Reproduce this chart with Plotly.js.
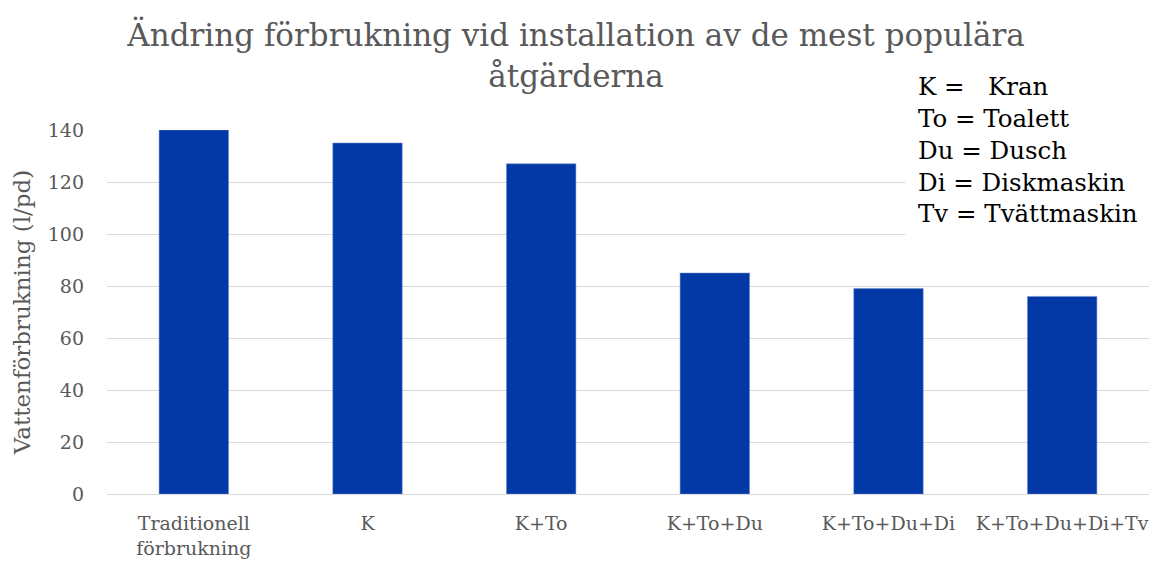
<!DOCTYPE html>
<html><head><meta charset="utf-8">
<script src="https://cdn.plot.ly/plotly-3.0.1.min.js"></script>
<style>body{margin:0;background:#fff}#c{width:1152px;height:565px}</style>
</head><body><div id="c"></div>
<script>
const categories = ["Traditionell<br>förbrukning", "K", "K+To", "K+To+Du", "K+To+Du+Di", "K+To+Du+Di+Tv"];
const values = [140, 135, 127, 85, 79, 76];
const legendLines = ["K =   Kran", "To = Toalett", "Du = Dusch", "Di = Diskmaskin", "Tv = Tvättmaskin"];
const titleText = "Ändring förbrukning vid installation av de mest populära<br>åtgärderna";
const yTitle = "Vattenförbrukning (l/pd)";

const serif = "DejaVu Serif, serif";
Plotly.newPlot("c", [{
  type: "bar", x: categories, y: values,
  marker: {color: "#0339A6", line: {color: "#6f8fd0", width: 0.5}},
  hoverinfo: "x+y"
}], {
  width: 1152, height: 565,
  margin: {l: 107, r: 3, t: 130, b: 71},
  paper_bgcolor: "#fff", plot_bgcolor: "#fff",
  bargap: 0.6,
  title: {text: titleText, font: {family: serif, size: 31, color: "#595959"}, x: 0.5, xanchor: "center", y: 0.918, yanchor: "top"},
  xaxis: {tickfont: {family: serif, size: 19, color: "#595959"}, showgrid: false, showline: false, ticks: "", ticklen: 0, ticklabelstandoff: 16},
  yaxis: {range: [0, 140], dtick: 20, tickfont: {family: serif, size: 19, color: "#595959"},
    gridcolor: "#d9d9d9", gridwidth: 1.3, zeroline: true, zerolinecolor: "#d9d9d9", zerolinewidth: 1.3, showline: false, ticklabelstandoff: 22,
    title: {text: yTitle, font: {family: serif, size: 23, color: "#595959"}, standoff: 10}},
  annotations: [{
    text: legendLines.join("<br>"), xref: "paper", yref: "paper", x: 0.766, y: 1.195,
    xanchor: "left", yanchor: "top", align: "left", showarrow: false,
    bgcolor: "#fff", borderpad: 12,
    font: {family: serif, size: 24.5, color: "#000"}
  }],
  showlegend: false
}, {displayModeBar: false});
</script></body></html>
